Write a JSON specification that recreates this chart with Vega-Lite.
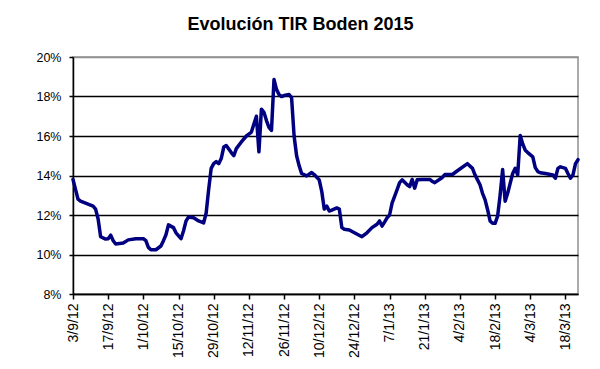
{
  "$schema": "https://vega.github.io/schema/vega-lite/v6.json",
  "autosize": {"type": "none"},
  "padding": {"left": 73, "top": 57, "right": 22, "bottom": 75},
  "width": 505,
  "height": 237,
  "background": "white",
  "title": {"text": "Evolución TIR Boden 2015", "font": "Liberation Sans", "fontSize": 18, "fontWeight": "bold", "color": "black", "anchor": "middle", "dx": -25, "offset": 17},
  "data": {"values": [
    {"fecha": "2012-09-03", "tir": 13.8},
    {"fecha": "2012-09-04", "tir": 13.3},
    {"fecha": "2012-09-05", "tir": 12.8},
    {"fecha": "2012-09-06", "tir": 12.7},
    {"fecha": "2012-09-08", "tir": 12.6},
    {"fecha": "2012-09-10", "tir": 12.5},
    {"fecha": "2012-09-11", "tir": 12.45},
    {"fecha": "2012-09-12", "tir": 12.3},
    {"fecha": "2012-09-13", "tir": 11.8},
    {"fecha": "2012-09-14", "tir": 10.9},
    {"fecha": "2012-09-16", "tir": 10.78},
    {"fecha": "2012-09-17", "tir": 10.8},
    {"fecha": "2012-09-18", "tir": 10.98},
    {"fecha": "2012-09-19", "tir": 10.7},
    {"fecha": "2012-09-20", "tir": 10.53},
    {"fecha": "2012-09-23", "tir": 10.58},
    {"fecha": "2012-09-25", "tir": 10.74},
    {"fecha": "2012-09-28", "tir": 10.8},
    {"fecha": "2012-10-01", "tir": 10.8},
    {"fecha": "2012-10-02", "tir": 10.7},
    {"fecha": "2012-10-03", "tir": 10.36},
    {"fecha": "2012-10-04", "tir": 10.24},
    {"fecha": "2012-10-06", "tir": 10.24},
    {"fecha": "2012-10-08", "tir": 10.43},
    {"fecha": "2012-10-09", "tir": 10.7},
    {"fecha": "2012-10-10", "tir": 11.0},
    {"fecha": "2012-10-11", "tir": 11.5},
    {"fecha": "2012-10-13", "tir": 11.36},
    {"fecha": "2012-10-14", "tir": 11.1},
    {"fecha": "2012-10-16", "tir": 10.8},
    {"fecha": "2012-10-17", "tir": 11.2},
    {"fecha": "2012-10-18", "tir": 11.7},
    {"fecha": "2012-10-19", "tir": 11.9},
    {"fecha": "2012-10-21", "tir": 11.86},
    {"fecha": "2012-10-23", "tir": 11.7},
    {"fecha": "2012-10-25", "tir": 11.6},
    {"fecha": "2012-10-26", "tir": 12.1},
    {"fecha": "2012-10-27", "tir": 13.3},
    {"fecha": "2012-10-28", "tir": 14.36},
    {"fecha": "2012-10-29", "tir": 14.6},
    {"fecha": "2012-10-30", "tir": 14.7},
    {"fecha": "2012-10-31", "tir": 14.6},
    {"fecha": "2012-11-01", "tir": 14.86},
    {"fecha": "2012-11-02", "tir": 15.44},
    {"fecha": "2012-11-03", "tir": 15.52},
    {"fecha": "2012-11-05", "tir": 15.16},
    {"fecha": "2012-11-06", "tir": 15.0},
    {"fecha": "2012-11-07", "tir": 15.36},
    {"fecha": "2012-11-09", "tir": 15.7},
    {"fecha": "2012-11-11", "tir": 16.0},
    {"fecha": "2012-11-12", "tir": 16.1},
    {"fecha": "2012-11-13", "tir": 16.2},
    {"fecha": "2012-11-14", "tir": 16.6},
    {"fecha": "2012-11-15", "tir": 17.0},
    {"fecha": "2012-11-16", "tir": 15.2},
    {"fecha": "2012-11-17", "tir": 17.36},
    {"fecha": "2012-11-18", "tir": 17.2},
    {"fecha": "2012-11-19", "tir": 16.78},
    {"fecha": "2012-11-20", "tir": 16.44},
    {"fecha": "2012-11-21", "tir": 16.28},
    {"fecha": "2012-11-22", "tir": 18.86},
    {"fecha": "2012-11-23", "tir": 18.36},
    {"fecha": "2012-11-24", "tir": 18.1},
    {"fecha": "2012-11-25", "tir": 18.0},
    {"fecha": "2012-11-26", "tir": 18.05},
    {"fecha": "2012-11-28", "tir": 18.1},
    {"fecha": "2012-11-29", "tir": 17.94},
    {"fecha": "2012-11-30", "tir": 16.0},
    {"fecha": "2012-12-01", "tir": 15.0},
    {"fecha": "2012-12-02", "tir": 14.5},
    {"fecha": "2012-12-03", "tir": 14.1},
    {"fecha": "2012-12-05", "tir": 13.98},
    {"fecha": "2012-12-07", "tir": 14.15},
    {"fecha": "2012-12-08", "tir": 14.05},
    {"fecha": "2012-12-10", "tir": 13.78},
    {"fecha": "2012-12-11", "tir": 13.2},
    {"fecha": "2012-12-12", "tir": 12.3},
    {"fecha": "2012-12-13", "tir": 12.45},
    {"fecha": "2012-12-14", "tir": 12.2},
    {"fecha": "2012-12-15", "tir": 12.25},
    {"fecha": "2012-12-17", "tir": 12.36},
    {"fecha": "2012-12-18", "tir": 12.3},
    {"fecha": "2012-12-19", "tir": 11.36},
    {"fecha": "2012-12-20", "tir": 11.28},
    {"fecha": "2012-12-22", "tir": 11.24},
    {"fecha": "2012-12-24", "tir": 11.1},
    {"fecha": "2012-12-27", "tir": 10.9},
    {"fecha": "2012-12-29", "tir": 11.1},
    {"fecha": "2012-12-31", "tir": 11.36},
    {"fecha": "2013-01-02", "tir": 11.53},
    {"fecha": "2013-01-03", "tir": 11.7},
    {"fecha": "2013-01-04", "tir": 11.44},
    {"fecha": "2013-01-05", "tir": 11.64},
    {"fecha": "2013-01-06", "tir": 11.86},
    {"fecha": "2013-01-07", "tir": 12.0},
    {"fecha": "2013-01-08", "tir": 12.6},
    {"fecha": "2013-01-10", "tir": 13.28},
    {"fecha": "2013-01-11", "tir": 13.64},
    {"fecha": "2013-01-12", "tir": 13.78},
    {"fecha": "2013-01-14", "tir": 13.53},
    {"fecha": "2013-01-15", "tir": 13.44},
    {"fecha": "2013-01-16", "tir": 13.8},
    {"fecha": "2013-01-17", "tir": 13.36},
    {"fecha": "2013-01-18", "tir": 13.78},
    {"fecha": "2013-01-20", "tir": 13.8},
    {"fecha": "2013-01-23", "tir": 13.8},
    {"fecha": "2013-01-24", "tir": 13.7},
    {"fecha": "2013-01-25", "tir": 13.64},
    {"fecha": "2013-01-28", "tir": 13.9},
    {"fecha": "2013-01-29", "tir": 14.05},
    {"fecha": "2013-02-01", "tir": 14.05},
    {"fecha": "2013-02-03", "tir": 14.24},
    {"fecha": "2013-02-07", "tir": 14.6},
    {"fecha": "2013-02-09", "tir": 14.36},
    {"fecha": "2013-02-10", "tir": 14.03},
    {"fecha": "2013-02-12", "tir": 13.53},
    {"fecha": "2013-02-13", "tir": 13.1},
    {"fecha": "2013-02-14", "tir": 12.78},
    {"fecha": "2013-02-15", "tir": 12.28},
    {"fecha": "2013-02-16", "tir": 11.7},
    {"fecha": "2013-02-17", "tir": 11.58},
    {"fecha": "2013-02-18", "tir": 11.58},
    {"fecha": "2013-02-19", "tir": 11.94},
    {"fecha": "2013-02-20", "tir": 13.0},
    {"fecha": "2013-02-21", "tir": 14.3},
    {"fecha": "2013-02-22", "tir": 12.7},
    {"fecha": "2013-02-23", "tir": 13.1},
    {"fecha": "2013-02-24", "tir": 13.6},
    {"fecha": "2013-02-25", "tir": 14.1},
    {"fecha": "2013-02-26", "tir": 14.36},
    {"fecha": "2013-02-27", "tir": 14.03},
    {"fecha": "2013-02-28", "tir": 16.03},
    {"fecha": "2013-03-01", "tir": 15.6},
    {"fecha": "2013-03-02", "tir": 15.28},
    {"fecha": "2013-03-03", "tir": 15.16},
    {"fecha": "2013-03-05", "tir": 14.94},
    {"fecha": "2013-03-06", "tir": 14.4},
    {"fecha": "2013-03-07", "tir": 14.2},
    {"fecha": "2013-03-08", "tir": 14.14},
    {"fecha": "2013-03-10", "tir": 14.1},
    {"fecha": "2013-03-13", "tir": 14.03},
    {"fecha": "2013-03-14", "tir": 13.86},
    {"fecha": "2013-03-15", "tir": 14.36},
    {"fecha": "2013-03-16", "tir": 14.44},
    {"fecha": "2013-03-18", "tir": 14.36},
    {"fecha": "2013-03-19", "tir": 14.1},
    {"fecha": "2013-03-20", "tir": 13.86},
    {"fecha": "2013-03-21", "tir": 14.03},
    {"fecha": "2013-03-22", "tir": 14.6},
    {"fecha": "2013-03-23", "tir": 14.8}
  ]},
  "mark": {"type": "line", "color": "#000080", "strokeWidth": 3.5, "strokeJoin": "round", "strokeCap": "round"},
  "encoding": {
    "x": {
      "field": "fecha",
      "type": "temporal",
      "scale": {"type": "utc", "domain": [{"year": 2012, "month": 9, "date": 3, "utc": true}, {"year": 2013, "month": 3, "date": 23, "utc": true}]},
      "axis": {
        "title": null,
        "grid": false,
        "values": [
          {"year": 2012, "month": 9, "date": 3, "utc": true},
          {"year": 2012, "month": 9, "date": 17, "utc": true},
          {"year": 2012, "month": 10, "date": 1, "utc": true},
          {"year": 2012, "month": 10, "date": 15, "utc": true},
          {"year": 2012, "month": 10, "date": 29, "utc": true},
          {"year": 2012, "month": 11, "date": 12, "utc": true},
          {"year": 2012, "month": 11, "date": 26, "utc": true},
          {"year": 2012, "month": 12, "date": 10, "utc": true},
          {"year": 2012, "month": 12, "date": 24, "utc": true},
          {"year": 2013, "month": 1, "date": 7, "utc": true},
          {"year": 2013, "month": 1, "date": 21, "utc": true},
          {"year": 2013, "month": 2, "date": 4, "utc": true},
          {"year": 2013, "month": 2, "date": 18, "utc": true},
          {"year": 2013, "month": 3, "date": 4, "utc": true},
          {"year": 2013, "month": 3, "date": 18, "utc": true}
        ],
        "labelExpr": "utcFormat(datum.value, '%-d/%-m/%y')",
        "labelAngle": 270,
        "labelFont": "Liberation Sans",
        "labelFontSize": 14,
        "labelColor": "black",
        "labelPadding": 4,
        "labelOverlap": false,
        "labelFlush": false,
        "labelBound": false,
        "domainColor": "black",
        "domainWidth": 1.5,
        "tickColor": "black",
        "tickWidth": 1.5,
        "tickSize": 5
      }
    },
    "y": {
      "field": "tir",
      "type": "quantitative",
      "scale": {"domain": [8, 20], "nice": false, "zero": false},
      "axis": {
        "title": null,
        "values": [8, 10, 12, 14, 16, 18, 20],
        "labelExpr": "datum.value + '%'",
        "labelFont": "Liberation Sans",
        "labelFontSize": 12.5,
        "labelColor": "black",
        "labelPadding": 8,
        "grid": true,
        "gridColor": {"condition": {"test": "datum.value == 20", "value": "#909090"}, "value": "black"},
        "gridWidth": 1.5,
        "gridOpacity": 1,
        "domainColor": "black",
        "domainWidth": 1.5,
        "tickColor": "black",
        "tickWidth": 1.5,
        "tickSize": 4
      }
    }
  },
  "config": {"view": {"stroke": "#909090", "strokeWidth": 1.5}}
}
